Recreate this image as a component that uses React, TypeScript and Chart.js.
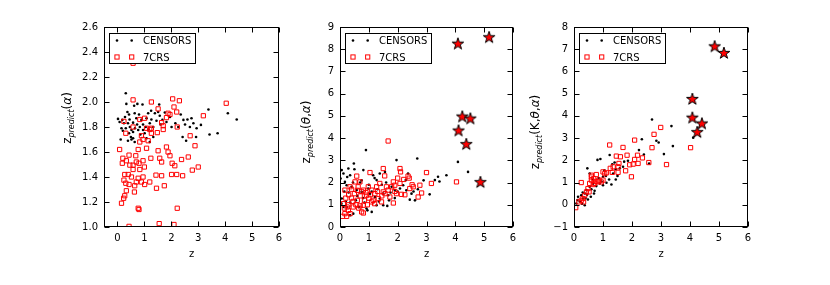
import React, { useEffect, useRef } from 'react';
import { Chart, registerables } from 'chart.js';

Chart.register(...registerables);

type Pt = [number, number];

// ---------------- data ----------------
const xTicks = [0, 1, 2, 3, 4, 5, 6];
const yTicksA = [1.0, 1.2, 1.4, 1.6, 1.8, 2.0, 2.2, 2.4, 2.6];
const yTicksB = [0, 1, 2, 3, 4, 5, 6, 7, 8, 9];
const yTicksC = [-1, 0, 1, 2, 3, 4, 5, 6, 7, 8];
const legendLabels = ['CENSORS', '7CRS'];

const censorsA: Pt[] = [
  [0.31, 2.07], [0.02, 1.865], [0.08, 1.84], [0.18, 1.857], [0.12, 1.70], [0.33, 1.985], [0.37, 1.92], [0.43, 1.90],
  [0.24, 1.83], [0.31, 1.79], [0.39, 1.83], [0.46, 1.80], [0.52, 1.776], [0.43, 1.75], [0.50, 1.72], [0.58, 1.71],
  [0.39, 1.69], [0.62, 1.97], [0.74, 1.985], [0.93, 1.98], [0.64, 1.91], [0.70, 1.87], [0.80, 1.90], [0.89, 1.857],
  [0.58, 1.835], [0.73, 1.82], [0.83, 1.80], [0.95, 1.776], [1.01, 1.75], [1.08, 1.87], [1.14, 1.91], [1.20, 1.83],
  [1.26, 1.86], [1.33, 1.80], [1.39, 1.91], [1.51, 1.92], [1.57, 1.89], [1.67, 1.857], [1.33, 1.72], [1.20, 1.68],
  [1.08, 1.71], [1.55, 1.98], [1.76, 1.916], [1.82, 1.84], [1.95, 1.88], [2.01, 1.80], [2.26, 1.80], [2.45, 1.857],
  [2.51, 1.82], [2.60, 1.86], [2.69, 1.80], [2.42, 1.72], [2.55, 1.69], [2.75, 1.87], [2.82, 1.83], [2.94, 1.79],
  [2.92, 1.72], [3.10, 1.817], [3.38, 1.94], [3.42, 1.74], [3.72, 1.75], [4.10, 1.91], [4.43, 1.86], [0.77, 1.776],
  [0.58, 1.76], [0.52, 1.70], [0.64, 1.68], [0.15, 1.79], [0.20, 1.77], [0.95, 1.82], [1.05, 1.80], [1.15, 1.78],
  [0.85, 1.74], [0.65, 1.79], [1.45, 1.85], [1.60, 1.82], [0.45, 1.86], [0.28, 1.88], [1.25, 1.93], [2.15, 1.83],
  [2.35, 1.90],
];
const crs7A: Pt[] = [
  [0.58, 2.017], [1.26, 2.00], [2.05, 2.025], [2.30, 2.01], [2.10, 1.96], [2.20, 1.92], [1.51, 1.945], [1.95, 1.90],
  [1.82, 1.875], [1.64, 1.835], [1.70, 1.81], [4.04, 1.99], [3.19, 1.89], [2.22, 1.80], [2.70, 1.73], [2.88, 1.65],
  [2.38, 1.54], [2.63, 1.56], [3.00, 1.48], [2.78, 1.455], [2.42, 1.41], [2.20, 1.42], [2.13, 1.49], [2.03, 1.51],
  [1.82, 1.64], [1.88, 1.60], [1.95, 1.57], [1.51, 1.61], [1.57, 1.55], [1.64, 1.52], [1.24, 1.55], [1.08, 1.63],
  [0.77, 1.62], [0.43, 1.575], [0.08, 1.62], [0.20, 1.55], [0.18, 1.51], [0.33, 1.53], [0.46, 1.495], [0.58, 1.495],
  [0.80, 1.51], [0.95, 1.53], [0.68, 1.57], [0.83, 1.46], [0.58, 1.46], [0.27, 1.42], [0.52, 1.40], [0.77, 1.39],
  [0.95, 1.40], [1.43, 1.415], [1.64, 1.41], [2.01, 1.42], [0.24, 1.375], [0.31, 1.35], [0.43, 1.34], [0.64, 1.33],
  [0.89, 1.36], [1.01, 1.34], [1.20, 1.36], [1.45, 1.31], [1.74, 1.33], [0.33, 1.29], [0.27, 1.25], [0.23, 1.23],
  [0.15, 1.19], [0.63, 1.28], [0.77, 1.15], [0.80, 1.14], [2.22, 1.15], [0.43, 1.005], [1.55, 1.027], [2.10, 1.02],
  [0.24, 1.845], [0.31, 1.75], [0.58, 1.80], [0.83, 1.68], [0.95, 1.70], [1.14, 1.69], [1.26, 1.75], [0.89, 1.73],
  [1.08, 1.79], [1.26, 1.79], [1.20, 1.78], [1.48, 1.755], [1.70, 1.78], [1.01, 1.87], [0.83, 1.86], [1.88, 1.91],
  [0.58, 2.31], [0.70, 1.36], [0.40, 1.42], [1.00, 1.48], [0.70, 1.52],
];

const censorsB: Pt[] = [
  [0.90, 3.46], [0.48, 2.86], [0.29, 2.63], [0.06, 2.56], [0.12, 2.41], [0.81, 2.56], [0.35, 2.33], [1.15, 2.33],
  [1.38, 2.41], [1.27, 2.11], [1.56, 2.48], [1.96, 3.01], [2.36, 2.41], [2.68, 3.08], [2.28, 2.11], [2.48, 1.50],
  [2.42, 1.23], [2.60, 1.20], [3.11, 1.47], [3.29, 2.11], [3.40, 2.26], [3.69, 2.33], [4.09, 2.93], [4.44, 2.48],
  [0.17, 2.03], [0.23, 1.88], [0.40, 1.81], [0.58, 1.66], [0.75, 1.58], [0.98, 1.73], [1.04, 1.50], [1.21, 1.35],
  [1.38, 1.28], [1.50, 1.50], [1.67, 1.43], [1.79, 1.81], [1.90, 1.66], [2.08, 1.73], [2.19, 1.88], [0.23, 0.90],
  [0.46, 0.60], [0.92, 0.83], [1.27, 0.98], [1.10, 0.68], [1.50, 0.98], [0.06, 1.28], [0.12, 0.90], [0.35, 0.53],
  [0.02, 2.18], [1.64, 0.95], [0.70, 2.00], [0.55, 1.20], [0.30, 1.55], [0.85, 1.10], [1.00, 1.90], [1.30, 1.70],
  [1.60, 2.00], [1.75, 1.55], [2.00, 1.60], [2.30, 1.65], [2.70, 1.70], [0.20, 1.15], [0.65, 0.90], [1.45, 1.90],
  [0.45, 2.00], [1.10, 1.60], [1.90, 1.30], [2.55, 1.60], [0.95, 0.75], [3.45, 2.05], [0.50, 2.60], [0.75, 2.10],
  [1.20, 2.20], [0.15, 1.60], [0.60, 1.40], [0.35, 1.10], [0.80, 1.30], [1.35, 1.15], [0.05, 1.05], [2.90, 2.10],
  [0.25, 2.25], [1.70, 1.20],
];
const crs7B: Pt[] = [
  [1.67, 3.87], [1.50, 2.63], [2.08, 2.63], [2.10, 2.48], [3.00, 2.45], [2.36, 2.29], [2.21, 2.14], [1.04, 2.45],
  [0.58, 2.29], [0.69, 2.03], [4.04, 2.03], [3.17, 1.96], [2.77, 1.88], [2.54, 1.81], [2.42, 1.73], [2.08, 1.96],
  [1.85, 2.03], [1.79, 1.81], [1.90, 1.88], [1.67, 1.66], [2.83, 1.53], [2.71, 1.35], [1.85, 1.08], [2.13, 1.47],
  [1.96, 1.50], [1.50, 1.58], [1.56, 1.50], [1.33, 1.28], [1.44, 1.13], [1.10, 1.13], [0.92, 1.43], [0.81, 0.98],
  [0.75, 0.68], [0.81, 0.63], [0.46, 0.90], [0.29, 0.75], [0.17, 0.60], [0.23, 0.48], [0.09, 0.48], [0.12, 1.05],
  [0.17, 1.66], [0.35, 1.81], [0.52, 2.03], [0.63, 1.81], [0.81, 1.66], [0.98, 1.81], [1.10, 1.66], [1.21, 1.50],
  [1.27, 1.81], [1.38, 1.96], [1.61, 1.81], [1.73, 1.35], [1.15, 1.20], [0.40, 1.30], [0.50, 1.50], [0.60, 1.20],
  [0.70, 1.40], [0.30, 1.00], [0.20, 1.30], [0.55, 1.00], [0.65, 0.85], [0.85, 1.20], [0.95, 1.00], [1.00, 1.30],
  [0.45, 1.15], [0.35, 0.60], [0.25, 0.90], [0.75, 1.60], [0.90, 1.55], [1.05, 1.45], [1.20, 1.05], [0.60, 1.65],
  [0.40, 1.70], [0.30, 1.45], [0.15, 0.85], [0.70, 0.95], [1.30, 1.60], [1.45, 1.40], [1.55, 2.30], [2.00, 2.20],
  [1.90, 1.60], [2.40, 2.20], [2.25, 1.45], [2.50, 1.90],
];
const starsB: Pt[] = [[4.09, 8.25], [5.17, 8.54], [4.24, 4.97], [4.52, 4.88], [4.11, 4.34], [4.38, 3.73], [4.87, 2.02]];

const censorsC: Pt[] = [
  [2.69, 3.84], [3.36, 3.54], [3.41, 2.64], [3.10, 2.28], [2.84, 2.88], [2.92, 2.80], [2.59, 1.86], [2.34, 2.95],
  [2.24, 2.46], [2.41, 2.26], [4.11, 3.02], [1.23, 2.24], [0.91, 2.06], [0.81, 2.02], [0.46, 1.64], [1.32, 1.82],
  [1.40, 1.90], [1.69, 1.71], [1.73, 1.94], [1.86, 1.98], [1.44, 1.60], [1.58, 1.64], [1.35, 1.41], [1.44, 1.14],
  [1.21, 1.14], [1.12, 0.99], [1.29, 0.91], [1.00, 1.26], [1.00, 0.88], [0.71, 0.63], [0.54, 0.81], [0.43, 0.66],
  [0.37, 0.51], [0.25, 0.43], [0.31, 0.28], [0.14, 0.36], [0.12, 0.21], [0.08, 0.06], [0.69, 0.51], [0.58, 0.36],
  [0.48, 0.24], [0.37, -0.02], [0.66, 1.14], [0.77, 0.84], [0.89, 0.96], [0.54, 1.41], [0.20, 0.15], [0.30, 0.55],
  [0.45, 0.45], [0.60, 0.70], [0.85, 1.20], [1.10, 1.30], [0.95, 1.05], [0.40, 0.30], [0.65, 0.95], [1.50, 1.30],
  [1.05, 1.55], [0.28, 0.05],
];
const crs7C: Pt[] = [
  [0.06, -0.13], [0.25, 1.00], [2.76, 3.17], [2.09, 2.91], [1.23, 2.69], [1.69, 2.58], [2.69, 2.57], [4.02, 2.57],
  [1.46, 2.19], [1.60, 2.16], [1.83, 2.23], [2.19, 2.23], [2.36, 2.11], [2.58, 1.90], [3.19, 1.81], [2.21, 1.86],
  [2.09, 2.04], [2.04, 1.83], [1.92, 1.80], [1.55, 1.86], [1.52, 1.71], [1.35, 1.71], [1.25, 1.64], [1.32, 1.46],
  [1.52, 1.46], [1.78, 1.53], [1.98, 1.26], [0.77, 1.36], [0.60, 1.33], [0.68, 1.18], [1.00, 1.48], [1.12, 1.44],
  [1.00, 1.11], [0.94, 1.03], [0.83, 1.03], [0.60, 1.11], [0.54, 0.96], [0.66, 0.91], [0.48, 0.73], [0.43, 0.58],
  [0.37, 0.43], [0.31, 0.28], [0.25, 0.20], [0.17, 0.13], [0.33, 0.13], [0.52, 0.58], [0.71, 0.96], [0.86, 1.11],
  [2.99, 3.48], [1.06, 1.40], [0.60, 1.25], [0.75, 1.05],
];
const starsC: Pt[] = [[4.85, 7.13], [5.17, 6.83], [4.08, 4.76], [4.08, 3.92], [4.41, 3.66], [4.25, 3.27]];

// ---------------- layout / style ----------------
const W = 830;
const H = 285;
const YW = 40;
const XH = 30;
const FONT = 'DejaVu Sans';
const TL = 5;

type TitlePart = { t: string; italic?: boolean; sub?: boolean };

interface PanelCfg {
  area: { left: number; right: number; top: number; bottom: number };
  xMin: number; xMax: number; yMin: number; yMax: number;
  yTicks: number[];
  yFmt: (v: number) => string;
  title: TitlePart[];
  titleX: number; titleY: number;
  censors: Pt[]; crs: Pt[]; stars: Pt[];
}

const fmt1 = (v: number) => v.toFixed(1);
const fmt0 = (v: number) => (v < 0 ? '\u2212' + String(-v) : String(v));

const panels: PanelCfg[] = [
  {
    area: { left: 104, right: 279, top: 27, bottom: 227 },
    xMin: -0.5, xMax: 6, yMin: 1.0, yMax: 2.6, yTicks: yTicksA, yFmt: fmt1,
    title: [{ t: 'z' }, { t: 'predict', italic: true, sub: true }, { t: '(' }, { t: '\u03b1', italic: true }, { t: ')' }],
    titleX: 71, titleY: 118,
    censors: censorsA, crs: crs7A, stars: [],
  },
  {
    area: { left: 340, right: 513, top: 27, bottom: 227 },
    xMin: 0, xMax: 6, yMin: 0, yMax: 9, yTicks: yTicksB, yFmt: fmt0,
    title: [{ t: 'z' }, { t: 'predict', italic: true, sub: true }, { t: '(' }, { t: '\u03b8', italic: true }, { t: ',' }, { t: '\u03b1', italic: true }, { t: ')' }],
    titleX: 310, titleY: 132,
    censors: censorsB, crs: crs7B, stars: starsB,
  },
  {
    area: { left: 574, right: 748, top: 27, bottom: 227 },
    xMin: 0, xMax: 6, yMin: -1, yMax: 8, yTicks: yTicksC, yFmt: fmt0,
    title: [{ t: 'z' }, { t: 'predict', italic: true, sub: true }, { t: '(K,' }, { t: '\u03b8', italic: true }, { t: ',' }, { t: '\u03b1', italic: true }, { t: ')' }],
    titleX: 539, titleY: 132,
    censors: censorsC, crs: crs7C, stars: starsC,
  },
];

function makeStar(): HTMLCanvasElement {
  const s = 16;
  const c = document.createElement('canvas');
  c.width = s; c.height = s;
  const g = c.getContext('2d')!;
  const R = 6.2, r = R * 0.382, cx = 8, cy = 8.3;
  g.beginPath();
  for (let i = 0; i < 10; i++) {
    const a = -Math.PI / 2 + (i * Math.PI) / 5;
    const rr = i % 2 === 0 ? R : r;
    g.lineTo(cx + rr * Math.cos(a), cy + rr * Math.sin(a));
  }
  g.closePath();
  g.fillStyle = '#ff0000';
  g.fill();
  g.lineWidth = 1;
  g.strokeStyle = '#000';
  g.lineJoin = 'miter';
  g.stroke();
  return c;
}

function drawSquare(ctx: CanvasRenderingContext2D, x: number, y: number) {
  ctx.strokeStyle = '#ff0000';
  ctx.lineWidth = 1;
  ctx.strokeRect(x - 2.1, y - 2.1, 4.2, 4.2);
}
function drawDot(ctx: CanvasRenderingContext2D, x: number, y: number) {
  ctx.fillStyle = '#000';
  ctx.beginPath();
  ctx.arc(x, y, 1.3, 0, Math.PI * 2);
  ctx.fill();
}

function makeDecor(cfg: PanelCfg) {
  return {
    id: 'decor',
    afterDatasetsDraw(chart: any) {
      const ctx: CanvasRenderingContext2D = chart.ctx;
      const a = chart.chartArea;
      const xs = chart.scales.x;
      const ys = chart.scales.y;
      ctx.save();
      ctx.strokeStyle = '#000';
      ctx.lineWidth = 1;
      // frame
      const L = Math.round(a.left) + 0.5, R = Math.round(a.right) - 0.5;
      const T = Math.round(a.top) + 0.5, B = Math.round(a.bottom) - 0.5;
      ctx.strokeRect(L, T, R - L, B - T);
      // inward ticks
      ctx.beginPath();
      xTicks.forEach((v) => {
        const px = Math.round(xs.getPixelForValue(v)) + 0.5;
        ctx.moveTo(px, B); ctx.lineTo(px, B - TL);
        ctx.moveTo(px, T); ctx.lineTo(px, T + TL);
      });
      cfg.yTicks.forEach((v) => {
        const py = Math.round(ys.getPixelForValue(v)) + 0.5;
        ctx.moveTo(L, py); ctx.lineTo(L + TL, py);
        ctx.moveTo(R, py); ctx.lineTo(R - TL, py);
      });
      ctx.stroke();
      // legend
      const lx = Math.round(a.left) + 5, ly = Math.round(a.top) + 6;
      const lw = 86, lh = 30;
      ctx.fillStyle = '#fff';
      ctx.fillRect(lx, ly, lw, lh);
      ctx.strokeStyle = '#000';
      ctx.strokeRect(lx + 0.5, ly + 0.5, lw, lh);
      const r1 = ly + 7.5, r2 = ly + 24;
      drawDot(ctx, lx + 8, r1); drawDot(ctx, lx + 22.7, r1);
      drawSquare(ctx, lx + 8, r2); drawSquare(ctx, lx + 22.7, r2);
      ctx.fillStyle = '#000';
      ctx.font = `10px "${FONT}"`;
      ctx.textAlign = 'left';
      ctx.textBaseline = 'alphabetic';
      ctx.fillText(legendLabels[0], lx + 34, r1 + 3.7);
      ctx.fillText(legendLabels[1], lx + 34, r2 + 3.7);
      ctx.restore();
    },
    afterDraw(chart: any) {
      const ctx: CanvasRenderingContext2D = chart.ctx;
      const a = chart.chartArea;
      ctx.save();
      ctx.fillStyle = '#000';
      // x title
      ctx.font = `10px "${FONT}"`;
      ctx.textAlign = 'center';
      ctx.textBaseline = 'alphabetic';
      ctx.fillText('z', (a.left + a.right) / 2, 256.7);
      // y title (rotated, with subscript)
      const fMain = `12px "${FONT}"`;
      const fMainI = `italic 12px "${FONT}"`;
      const fSub = `italic 8px "${FONT}"`;
      const fontOf = (p: TitlePart) => (p.sub ? fSub : p.italic ? fMainI : fMain);
      let total = 0;
      const widths = cfg.title.map((p) => {
        ctx.font = fontOf(p);
        const w = ctx.measureText(p.t).width;
        total += w;
        return w;
      });
      ctx.translate(cfg.titleX, cfg.titleY);
      ctx.rotate(-Math.PI / 2);
      ctx.textAlign = 'left';
      let x = -total / 2;
      cfg.title.forEach((p, i) => {
        ctx.font = fontOf(p);
        ctx.fillText(p.t, x, p.sub ? 3 : 0);
        x += widths[i];
      });
      ctx.restore();
    },
  };
}

function Panel({ cfg }: { cfg: PanelCfg }) {
  const ref = useRef<HTMLCanvasElement>(null);
  useEffect(() => {
    const star = makeStar();
    const toXY = (arr: Pt[]) => arr.map(([x, y]) => ({ x, y }));
    const tickFont = { family: FONT, size: 10 };
    const chart = new Chart(ref.current!, {
      type: 'scatter',
      data: {
        datasets: [
          {
            label: 'stars', data: toXY(cfg.stars), pointStyle: star as any, pointRadius: 6,
            backgroundColor: '#ff0000', borderColor: '#000', order: 0,
          },
          {
            label: legendLabels[1], data: toXY(cfg.crs), pointStyle: 'rect', pointRadius: 3,
            backgroundColor: 'rgba(0,0,0,0)', borderColor: '#ff0000', borderWidth: 1, order: 1,
          },
          {
            label: legendLabels[0], data: toXY(cfg.censors), pointStyle: 'circle', pointRadius: 1.3,
            backgroundColor: '#000', borderColor: '#000', borderWidth: 0, order: 2,
          },
        ],
      } as any,
      options: {
        animation: false,
        responsive: false,
        events: [],
        layout: {
          padding: {
            left: cfg.area.left - YW,
            right: W - cfg.area.right,
            top: cfg.area.top,
            bottom: H - cfg.area.bottom - XH,
          },
        },
        plugins: { legend: { display: false }, tooltip: { enabled: false }, title: { display: false } },
        scales: {
          x: {
            type: 'linear', min: cfg.xMin, max: cfg.xMax,
            afterBuildTicks: (s: any) => { s.ticks = xTicks.map((v) => ({ value: v })); },
            afterFit: (s: any) => { s.height = XH; s.paddingLeft = 0; s.paddingRight = 0; },
            grid: { display: false, drawTicks: false }, border: { display: false },
            ticks: {
              autoSkip: false, maxRotation: 0, padding: 5, color: '#000', font: tickFont,
              callback: (v: any) => fmt0(Number(v)),
            },
          },
          y: {
            type: 'linear', min: cfg.yMin, max: cfg.yMax,
            afterBuildTicks: (s: any) => { s.ticks = cfg.yTicks.map((v) => ({ value: v })); },
            afterFit: (s: any) => { s.width = YW; s.paddingTop = 0; s.paddingBottom = 0; },
            grid: { display: false, drawTicks: false }, border: { display: false },
            ticks: {
              autoSkip: false, padding: 6, color: '#000', font: tickFont,
              callback: (v: any) => cfg.yFmt(Number(v)),
            },
          },
        },
      } as any,
      plugins: [makeDecor(cfg) as any],
    });
    return () => chart.destroy();
  }, [cfg]);
  return (
    <canvas
      ref={ref}
      width={W}
      height={H}
      style={{ position: 'absolute', left: 0, top: 0, width: W, height: H }}
    />
  );
}

export default function App() {
  return (
    <div style={{ position: 'absolute', left: 0, top: 0, width: W, height: H, background: '#fff', overflow: 'hidden' }}>
      {panels.map((p, i) => (
        <Panel key={i} cfg={p} />
      ))}
    </div>
  );
}
